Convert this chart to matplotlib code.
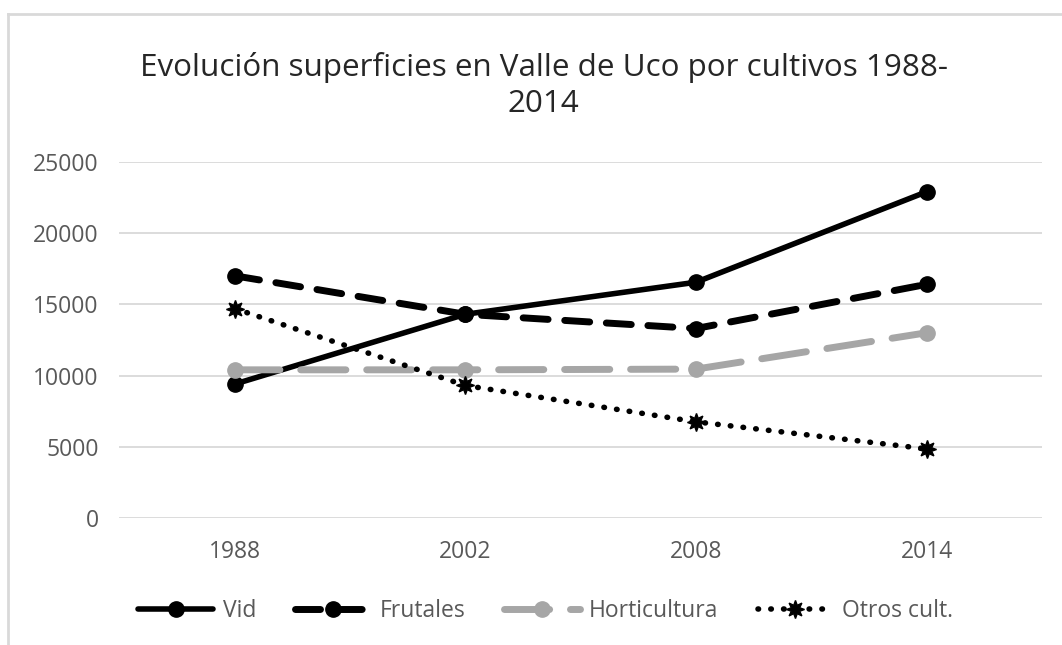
import numpy as np
import matplotlib.pyplot as plt
from matplotlib.lines import Line2D

years = ['1988', '2002', '2008', '2014']
vid = [9400, 14300, 16550, 22900]
frutales = [17000, 14300, 13300, 16400]
horticultura = [10400, 10400, 10450, 13000]
otros = [14700, 9300, 6750, 4850]

plt.rcParams['font.family'] = ['Open Sans', 'DejaVu Sans']
txt = '#595959'

fig = plt.figure(figsize=(10.62, 6.45), dpi=100)
ax = fig.add_axes([0.1125, 0.197, 0.8685, 0.552])
x = np.arange(len(years))

ax.plot(x, vid, color='black', lw=4, marker='o', ms=11, label='Vid',
        solid_capstyle='round')
ax.plot(x, frutales, color='black', lw=5, ls=(0, (3.6, 2.4)), marker='o', ms=11,
        label='Frutales', dash_capstyle='round')
ax.plot(x, horticultura, color='#a6a6a6', lw=5, ls=(0, (6.5, 3)), marker='o', ms=11,
        label='Horticultura', dash_capstyle='round')
ax.plot(x, otros, color='black', lw=4, ls=(0, (0.1, 2.2)), marker=(8, 1, 0), ms=13,
        label='Otros cult.', dash_capstyle='round')

ax.set_xlim(-0.5, 3.5)
ax.set_ylim(0, 25000)
ax.set_yticks(np.arange(0, 25001, 5000))
ax.set_xticks(x)
ax.set_xticklabels(years)
ax.grid(axis='y', color='#d9d9d9', lw=1.3)
ax.set_axisbelow(True)
for s in ax.spines.values():
    s.set_visible(False)
ax.tick_params(length=0, labelsize=16.5, labelcolor=txt, pad=15)
ax.tick_params(axis='x', pad=16)

fig.text(0.512, 0.868, 'Evolución superficies en Valle de Uco por cultivos 1988-\n2014',
         ha='center', va='center', fontsize=22.6, color='#262626', linespacing=1.25)

leg = ax.legend(loc='center', bbox_to_anchor=(0.462, -0.261), ncol=4, frameon=False,
                fontsize=16.5, handlelength=3.3, columnspacing=1.7, handletextpad=0.4)
for t in leg.get_texts():
    t.set_color(txt)

# chart border (left and top only visible)
fig.add_artist(Line2D([0.008, 0.008], [0.0, 0.978], color='#d9d9d9', lw=2))
fig.add_artist(Line2D([0.008, 1.0], [0.978, 0.978], color='#d9d9d9', lw=2))

fig.savefig('out.png', dpi=100)
